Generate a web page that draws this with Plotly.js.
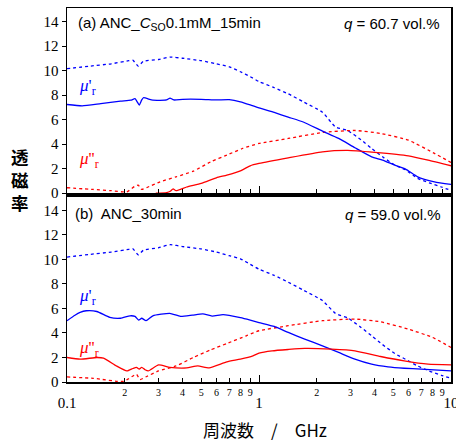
<!DOCTYPE html>
<html>
<head>
<meta charset="utf-8">
<script src="https://cdn.plot.ly/plotly-3.0.1.min.js"></script>
<style>
  html, body { margin: 0; padding: 0; background: #fff; }
  #chart { width: 456px; height: 442px; }
</style>
</head>
<body>
<div id="chart"></div>
<script>
// ---- (a) ANC_Cso 0.1mM 15min : frequency (GHz) and permeability ----
const aRealDotF = [0.1, 0.13, 0.17, 0.21, 0.22, 0.235, 0.25, 0.3, 0.345, 0.4, 0.5, 0.6, 0.7, 0.8, 0.9, 1.0, 1.2, 1.42, 1.7, 2.14, 2.5, 2.9, 3.4, 3.86, 4.4, 5.1, 5.8, 6.7, 7.7, 8.9, 10];
const aRealDot  = [10.15, 10.35, 10.55, 10.8, 10.85, 10.36, 10.75, 10.9, 11.1, 11.0, 10.8, 10.55, 10.3, 9.9, 9.5, 9.1, 8.6, 8.1, 7.45, 6.6, 5.4, 5.1, 4.35, 3.65, 2.96, 2.28, 1.9, 1.2, 0.84, 0.5, 0.22];

const aRealF = [0.1, 0.12, 0.15, 0.19, 0.215, 0.226, 0.232, 0.238, 0.245, 0.25, 0.28, 0.33, 0.344, 0.36, 0.4, 0.5, 0.6, 0.7, 0.8, 0.9, 1.0, 1.2, 1.42, 1.7, 2.14, 2.6, 3.16, 3.86, 4.4, 5.1, 5.8, 6.7, 8.2, 10];
const aReal  = [7.23, 7.12, 7.3, 7.5, 7.58, 7.7, 7.45, 7.18, 7.6, 7.78, 7.58, 7.6, 7.75, 7.6, 7.65, 7.65, 7.6, 7.62, 7.45, 7.2, 6.95, 6.58, 6.2, 5.8, 5.06, 4.46, 3.7, 2.96, 2.7, 2.28, 1.96, 1.33, 0.92, 0.71];

const aImagDotF = [0.1, 0.137, 0.17, 0.205, 0.225, 0.235, 0.245, 0.26, 0.305, 0.37, 0.455, 0.56, 0.68, 0.82, 1.0, 1.42, 2.14, 3.16, 4.3, 6.0, 8.2, 10];
const aImagDot  = [0.44, 0.3, 0.2, 0.1, 0.55, 0.65, 0.3, 0.45, 0.92, 1.33, 1.79, 2.55, 3.1, 3.64, 4.05, 4.46, 4.95, 5.11, 4.87, 4.32, 3.24, 2.5];

const aImagF = [0.29, 0.33, 0.345, 0.357, 0.37, 0.42, 0.5, 0.6, 0.68, 0.8, 0.9, 1.0, 1.42, 2.14, 2.9, 4.0, 6.0, 7.6, 10];
const aImag  = [0.0, 0.05, 0.15, 0.35, 0.2, 0.5, 0.79, 1.25, 1.47, 1.82, 2.23, 2.42, 2.88, 3.37, 3.48, 3.32, 3.04, 2.69, 2.23];

// ---- (b) ANC_30min ----
const bRealDotF = [0.1, 0.13, 0.17, 0.21, 0.22, 0.235, 0.25, 0.3, 0.345, 0.4, 0.5, 0.6, 0.7, 0.8, 0.9, 1.0, 1.2, 1.42, 1.7, 2.14, 2.5, 2.9, 3.4, 3.86, 4.4, 5.1, 5.8, 6.7, 7.7, 8.9, 10];
const bRealDot  = [10.19, 10.4, 10.6, 10.82, 10.87, 10.38, 10.75, 10.95, 11.2, 11.05, 10.85, 10.6, 10.3, 10.05, 9.6, 9.2, 8.7, 8.14, 7.5, 6.64, 5.6, 5.22, 4.45, 3.77, 3.05, 2.32, 1.85, 1.31, 0.9, 0.55, 0.3];

const bRealF = [0.1, 0.11, 0.117, 0.126, 0.143, 0.167, 0.19, 0.213, 0.226, 0.236, 0.245, 0.258, 0.28, 0.343, 0.39, 0.45, 0.51, 0.57, 0.65, 0.8, 0.9, 1.0, 1.2, 1.42, 1.73, 2.14, 2.6, 3.16, 3.86, 4.7, 5.7, 7.0, 10];
const bReal  = [5.0, 5.45, 5.68, 5.81, 5.75, 5.27, 5.2, 5.4, 5.35, 5.05, 5.2, 5.0, 5.4, 5.6, 5.35, 5.45, 5.55, 5.38, 5.5, 5.25, 5.05, 4.85, 4.53, 4.04, 3.5, 2.95, 2.41, 1.86, 1.45, 1.23, 1.12, 1.05, 0.9];

const bImagDotF = [0.1, 0.137, 0.197, 0.23, 0.24, 0.26, 0.3, 0.37, 0.455, 0.56, 0.68, 0.86, 1.0, 1.42, 2.14, 3.16, 4.3, 6.0, 8.0, 10];
const bImagDot  = [0.41, 0.3, 0.05, 0.63, 0.2, 0.45, 0.9, 1.31, 2.0, 2.62, 3.14, 3.77, 4.18, 4.59, 5.0, 5.13, 4.91, 4.31, 3.64, 2.82];

const bImagF = [0.1, 0.117, 0.143, 0.155, 0.181, 0.205, 0.22, 0.23, 0.238, 0.245, 0.255, 0.265, 0.3, 0.343, 0.42, 0.48, 0.55, 0.68, 0.8, 0.93, 1.0, 1.17, 1.42, 1.73, 2.39, 3.16, 4.3, 5.7, 7.6, 10];
const bImag  = [2.0, 1.86, 2.0, 1.95, 1.31, 0.9, 1.1, 1.2, 1.05, 1.2, 1.0, 0.9, 1.39, 1.2, 1.15, 1.31, 1.15, 1.64, 1.86, 2.13, 2.35, 2.54, 2.65, 2.74, 2.68, 2.54, 2.08, 1.72, 1.45, 1.39];

// ---- axis labels ----
const majorTicks = [0.1, 1, 10];
const majorText  = ['0.1', '1', '10'];
const minorTicks = [];
const minorText  = [];
[0.1, 1].forEach(dec => {
  for (let d = 2; d <= 9; d++) { minorTicks.push(+(dec * d).toFixed(2)); minorText.push(String(d)); }
});
const panelTitleA = '(a) ANC_<i>C</i><sub>SO</sub>0.1mM_15min';
const panelTitleB = '(b)&nbsp; ANC_30min';
const qA = '<i>q</i> = 60.7 vol.%';
const qB = '<i>q</i> = 59.0 vol.%';
const muReal = '<i>μ</i>\'<sub>r</sub>';
const muImag = '<i>μ</i>\'\'<sub>r</sub>';
const yTitle = '透<br>磁<br>率';
const xTitle = '周波数　/　GHz';

const BLUE = '#0000ff', RED = '#ff0000';
const SERIF = 'Liberation Serif, Times New Roman, serif';
const SANS = 'Liberation Sans, Arial, sans-serif';
const CJK = 'Noto Sans CJK JP, sans-serif';

function line(x, y, color, dash, xa, ya) {
  return {
    x, y, xaxis: xa, yaxis: ya, type: 'scatter', mode: 'lines',
    line: { color, width: 1.3, dash: dash || 'solid', shape: 'spline', smoothing: 0.5 },
    hoverinfo: 'skip', showlegend: false
  };
}

const data = [
  line(aRealDotF, aRealDot, BLUE, 'dot', 'x', 'y'),
  line(aImagDotF, aImagDot, RED, 'dot', 'x', 'y'),
  line(aRealF, aReal, BLUE, null, 'x', 'y'),
  line(aImagF, aImag, RED, null, 'x', 'y'),
  line(bRealDotF, bRealDot, BLUE, 'dot', 'x2', 'y2'),
  line(bImagDotF, bImagDot, RED, 'dot', 'x2', 'y2'),
  line(bRealF, bReal, BLUE, null, 'x2', 'y2'),
  line(bImagF, bImag, RED, null, 'x2', 'y2'),
  // empty series that carries the decade-label axis (x3) on the lower panel
  { x: majorTicks, y: [null, null, null], xaxis: 'x3', yaxis: 'y2', type: 'scatter', mode: 'lines',
    hoverinfo: 'skip', showlegend: false }
];

// pixel -> paper helpers for the plot area (l=67, r=451, t=8, b=382)
const L = 67, R = 451, T = 8, B = 382;
const px = v => (v - L) / (R - L);
const py = v => (B - v) / (B - T);

const frame = {
  showline: true, mirror: true, linecolor: '#000', linewidth: 1.5,
  showgrid: false, zeroline: false, tickcolor: '#000'
};
const xBase = Object.assign({}, frame, { type: 'log', range: [-1, 1] });
const yBase = Object.assign({}, frame, {
  range: [0, 15.1], tick0: 0, dtick: 2, ticks: 'outside', ticklen: 4, tickwidth: 1,
  tickfont: { family: SERIF, size: 15, color: '#000' }
});

const split = py(195);

function ann(text, x, y, xanchor, font) {
  return { text, x: px(x), y: py(y), xref: 'paper', yref: 'paper', xanchor, yanchor: 'middle', showarrow: false, font };
}
const fSans = { family: SANS, size: 15, color: '#000' };
const annotations = [
  ann(panelTitleA, 76, 24, 'left', fSans),
  ann(qA, 441, 24, 'right', fSans),
  ann(panelTitleB, 73, 213, 'left', fSans),
  ann(qB, 442, 214, 'right', fSans),
  ann(muReal, 77, 87, 'left', { family: SERIF, size: 17, color: BLUE }),
  ann(muImag, 77, 160, 'left', { family: SERIF, size: 17, color: RED }),
  ann(muReal, 77, 297, 'left', { family: SERIF, size: 17, color: BLUE }),
  ann(muImag, 77, 349, 'left', { family: SERIF, size: 17, color: RED }),
  ann(xTitle, 265, 429, 'center', { family: CJK, size: 17, color: '#000' }),
  ann(yTitle, 20, 179, 'center', { family: CJK, size: 17.5, color: '#000', weight: 'bold' })
];

const layout = {
  width: 456, height: 442,
  margin: { l: L, r: 456 - R, t: T, b: 442 - B, pad: 0 },
  paper_bgcolor: '#fff', plot_bgcolor: '#fff',
  showlegend: false,
  xaxis: Object.assign({}, xBase, {
    domain: [0, 1], anchor: 'y',
    tickvals: majorTicks, ticks: 'inside', ticklen: 7, tickwidth: 1, showticklabels: false,
    minor: { tickvals: minorTicks, ticks: 'inside', ticklen: 4, tickwidth: 1, tickcolor: '#000' }
  }),
  yaxis: Object.assign({}, yBase, { domain: [split + 0.005, 1], anchor: 'x' }),
  xaxis2: Object.assign({}, xBase, {
    domain: [0, 1], anchor: 'y2',
    tickvals: minorTicks, ticktext: minorText, ticks: 'inside', ticklen: 4, tickwidth: 1,
    tickfont: { family: SERIF, size: 10, color: '#000' }
  }),
  xaxis3: {
    type: 'log', range: [-1, 1], overlaying: 'x2', anchor: 'y2', side: 'bottom',
    showline: false, showgrid: false, zeroline: false,
    tickvals: majorTicks, ticktext: majorText, ticks: 'inside', ticklen: 7, tickwidth: 1, tickcolor: '#000',
    ticklabelstandoff: 10, ticklabeloverflow: 'allow',
    tickfont: { family: SERIF, size: 15, color: '#000' }
  },
  yaxis2: Object.assign({}, yBase, { domain: [0, split - 0.005], anchor: 'x2' }),
  annotations
};

Plotly.newPlot('chart', data, layout, { displayModeBar: false, staticPlot: true });
</script>
</body>
</html>
